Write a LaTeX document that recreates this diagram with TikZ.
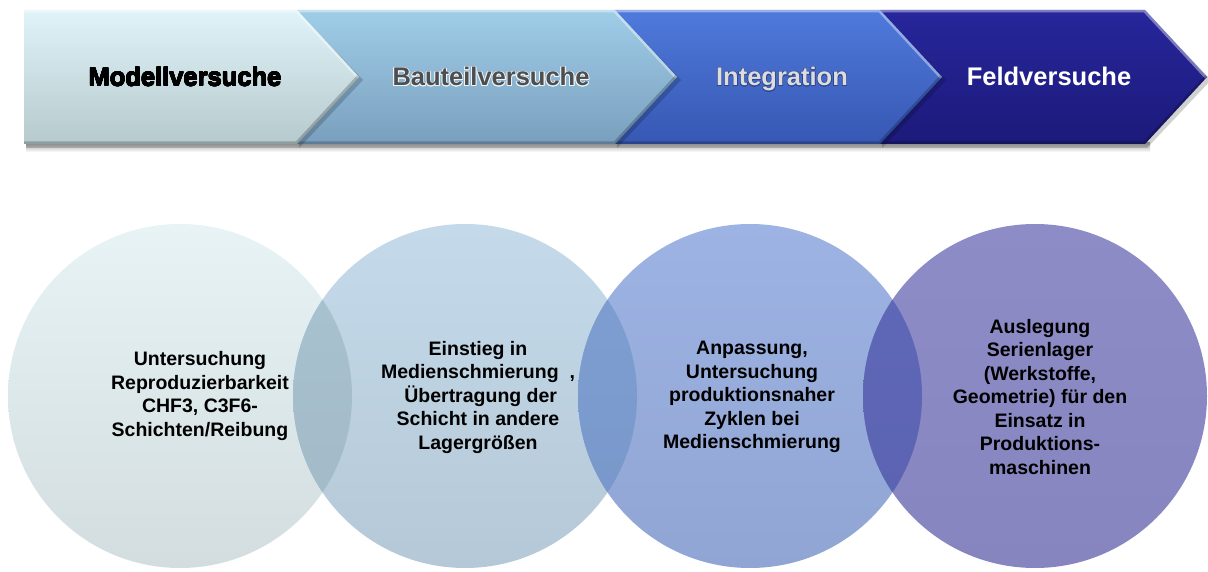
\documentclass[tikz,border=0pt]{standalone}
\usepackage{fontspec}
\setmainfont{Liberation Sans}
\usepackage[copies]{contour}

% chevron fills
\definecolor{ch1t}{HTML}{E0F3F8}\definecolor{ch1b}{HTML}{B6CACE}
\definecolor{ch2t}{HTML}{9FCDE8}\definecolor{ch2b}{HTML}{7A9FBE}
\definecolor{ch3t}{HTML}{4F7ADB}\definecolor{ch3b}{HTML}{3757B3}
\definecolor{ch4t}{HTML}{27269B}\definecolor{ch4b}{HTML}{1C1A7A}
% disc fills
\definecolor{d1t}{HTML}{E7F3F5}\definecolor{d1b}{HTML}{D3DDDF}
\definecolor{d2t}{HTML}{C4DAEA}\definecolor{d2b}{HTML}{B5C8D7}
\definecolor{d3t}{HTML}{9DB3E3}\definecolor{d3b}{HTML}{90A5D3}
\definecolor{d4t}{HTML}{8D8CC7}\definecolor{d4b}{HTML}{8785BF}
% lens fills where discs overlap
\definecolor{o12t}{HTML}{A9C4D1}\definecolor{o12b}{HTML}{A2B8C5}
\definecolor{o23t}{HTML}{7F9FD3}\definecolor{o23b}{HTML}{7896C8}
\definecolor{o34t}{HTML}{6069B9}\definecolor{o34b}{HTML}{5A62B0}
\definecolor{gtext}{HTML}{4E4E4E}
\definecolor{ltext}{HTML}{DCDCDC}

% #1 left x, #2 x where the point starts, #3/#4 top/bottom colour
\newcommand\drawchevron[4]{%
  \fill[black,opacity=.18] (#1+2,13) -- (#2+2,13) -- (#2+66,80) -- (#2+2,148) -- (#1+2,148) -- cycle;
  \begin{scope}
    \clip (#1,10) -- (#2,10) -- (#2+62,77) -- (#2,144) -- (#1,144) -- cycle;
    \shade[top color=#3,bottom color=#4] (#1,10) rectangle (#2+62,144);
    \draw[white,opacity=.40,line width=5] (#1,10) -- (#2,10) -- (#2+62,77);
    \draw[black,opacity=.22,line width=5] (#2+62,77) -- (#2,144) -- (#1,144);
  \end{scope}}

\tikzset{
  phase/.style={font=\bfseries\fontsize{25.5}{30}\selectfont,inner sep=0pt,anchor=base},
  circtext/.style={align=center,font=\bfseries\fontsize{19.5}{23.5}\selectfont,inner sep=0pt}
}

\begin{document}
\begin{tikzpicture}[x=1pt,y=-1pt]
\useasboundingbox (0,0) rectangle (1208,572);

% soft shadow under the bar
\shade[top color=black!35,bottom color=white] (26,143) rectangle (1150,152);

% phase chevrons, right to left so each point lies over its neighbour
\drawchevron{880}{1145}{ch4t}{ch4b}
\drawchevron{615}{880}{ch3t}{ch3b}
\drawchevron{297}{615}{ch2t}{ch2b}
\drawchevron{24}{297}{ch1t}{ch1b}

\contourlength{0.35pt}
\node[phase,text=black] (p1) at (185,86) {\contour{black}{Modellversuche}};
\contourlength{0.8pt}
\node[phase,text=gtext] (p2) at (491,86) {\contour{white!80!ch2t}{Bauteilversuche}};
\contourlength{0.5pt}
\node[phase,text=ltext] (p3) at (782,86) {\contour{ch3b!80!black}{Integration}};
\node[phase,text=white] (p4) at (1049,86) {Feldversuche};

% discs
\shade[top color=d1t,bottom color=d1b] (180,396) circle (172);
\shade[top color=d2t,bottom color=d2b] (465,396) circle (172);
\shade[top color=d3t,bottom color=d3b] (750,396) circle (172);
\shade[top color=d4t,bottom color=d4b] (1035,396) circle (172);

% overlapping lenses
\begin{scope}
  \clip (180,396) circle (172);
  \shade[top color=o12t,bottom color=o12b] (465,396) circle (172);
\end{scope}
\begin{scope}
  \clip (465,396) circle (172);
  \shade[top color=o23t,bottom color=o23b] (750,396) circle (172);
\end{scope}
\begin{scope}
  \clip (750,396) circle (172);
  \shade[top color=o34t,bottom color=o34b] (1035,396) circle (172);
\end{scope}

\node[circtext] (c1) at (200,396) {Untersuchung\\Reproduzierbarkeit\\CHF3, C3F6-\\Schichten/Reibung};
\node[circtext] (c2) at (478,397) {Einstieg in\\Medienschmierung\ \ ,\\\ Übertragung der\\Schicht in andere\\Lagergrößen};
\node[circtext] (c3) at (752,397) {Anpassung,\\Untersuchung\\produktionsnaher\\Zyklen bei\\Medienschmierung};
\node[circtext] (c4) at (1040,397) {Auslegung\\Serienlager\\(Werkstoffe,\\Geometrie) für den\\Einsatz in\\Produktions-\\maschinen};
\end{tikzpicture}
\end{document}
